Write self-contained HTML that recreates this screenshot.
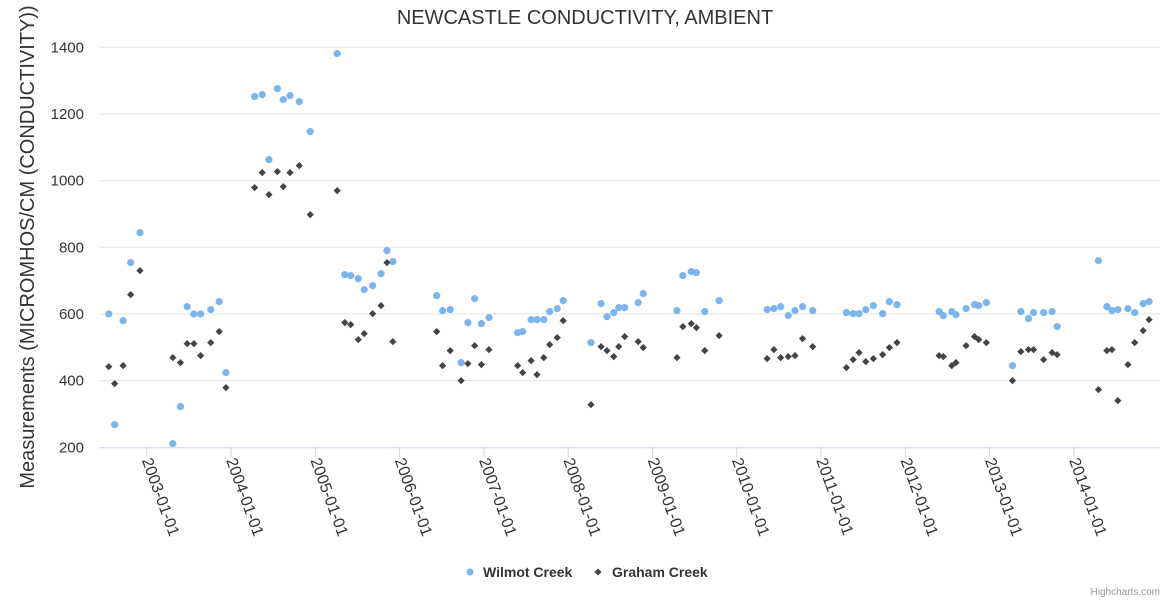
<!DOCTYPE html>
<html><head><meta charset="utf-8"><style>
html,body{margin:0;padding:0;background:#fff;}
svg{display:block;font-family:"Liberation Sans","DejaVu Sans",sans-serif;}
</style></head><body>
<svg id="chart" width="1170" height="600" viewBox="0 0 1170 600" xmlns="http://www.w3.org/2000/svg">
<rect x="0" y="0" width="1170" height="600" fill="#fff"/>
<text x="585" y="24" text-anchor="middle" font-size="20" fill="#333">NEWCASTLE CONDUCTIVITY, AMBIENT</text>
<g id="grid"></g>
<g id="yticks"></g>
<g id="xticks"></g>
<text transform="translate(34,247) rotate(-90)" text-anchor="middle" font-size="20" fill="#333">Measurements (MICROMHOS/CM (CONDUCTIVITY))</text>
<g id="s1"></g>
<g id="s2"></g>
<g>
<g>
<circle cx="470" cy="572" r="3.5" fill="#7cb5ec"/>
<text x="483" y="577" font-size="14" font-weight="bold" fill="#333">Wilmot Creek</text>
</g>
<g>
<path d="M598 568.5 L601.5 572 L598 575.5 L594.5 572 Z" fill="#434348"/>
<text x="612" y="577" font-size="14" font-weight="bold" fill="#333">Graham Creek</text>
</g>
</g>
<text x="1160" y="595" text-anchor="end" font-size="10" fill="#999">Highcharts.com</text>
</svg>
<script>
const yTicks = [200, 400, 600, 800, 1000, 1200, 1400];
const xTickYears = [2003, 2004, 2005, 2006, 2007, 2008, 2009, 2010, 2011, 2012, 2013, 2014];
const xTickLabels = ["2003-01-01","2004-01-01","2005-01-01","2006-01-01","2007-01-01","2008-01-01","2009-01-01","2010-01-01","2011-01-01","2012-01-01","2013-01-01","2014-01-01"];
const wilmotDates = [2002.55,2002.62,2002.72,2002.81,2002.92,2003.31,2003.40,2003.48,2003.56,2003.64,2003.76,2003.86,2003.94,2004.28,2004.37,2004.45,2004.55,2004.62,2004.70,2004.81,2004.94,2005.26,2005.35,2005.42,2005.51,2005.58,2005.68,2005.78,2005.85,2005.92,2006.44,2006.51,2006.60,2006.73,2006.81,2006.89,2006.97,2007.06,2007.40,2007.46,2007.56,2007.63,2007.71,2007.78,2007.87,2007.94,2008.27,2008.39,2008.46,2008.54,2008.60,2008.67,2008.83,2008.89,2009.29,2009.36,2009.46,2009.52,2009.62,2009.79,2010.36,2010.44,2010.52,2010.61,2010.69,2010.78,2010.90,2011.30,2011.38,2011.45,2011.53,2011.62,2011.73,2011.81,2011.90,2012.40,2012.45,2012.55,2012.60,2012.72,2012.82,2012.87,2012.96,2013.27,2013.37,2013.46,2013.52,2013.64,2013.74,2013.80,2014.29,2014.39,2014.45,2014.52,2014.64,2014.72,2014.82,2014.89];
const wilmotValues = [600,268,580,754,844,211,322,622,600,600,613,637,424,1252,1258,1063,1276,1243,1255,1237,1147,1381,718,715,706,673,685,721,790,757,655,610,613,454,574,646,571,589,544,547,583,583,583,607,616,640,514,631,592,604,619,619,634,661,610,715,727,724,607,640,613,616,622,595,610,622,610,604,601,601,613,625,601,637,628,607,595,607,598,616,628,625,634,445,607,586,604,604,607,562,760,622,610,613,616,604,631,637];
const grahamDates = wilmotDates;
const grahamValues = [442,391,445,658,730,469,454,511,511,475,514,547,379,979,1024,958,1027,982,1024,1045,898,970,574,568,523,541,601,625,754,517,547,445,490,400,451,505,448,493,445,424,460,418,469,508,529,580,328,502,490,472,502,532,517,499,469,562,571,559,490,535,466,493,469,472,475,526,502,439,463,484,457,466,478,499,514,475,472,445,454,505,532,523,514,400,487,493,493,463,484,478,373,490,493,340,448,514,550,583];

const NS = "http://www.w3.org/2000/svg";
const plotL = 99, plotR = 1160, plotT = 47.3, plotB = 447.3;
function yScale(v){ return plotB - (v - 200) * (plotB - plotT) / 1200; }
function xScale(yr){ return 146.7 + (yr - 2003) * 84.3; }
function mk(tag, attrs, parent){ const e = document.createElementNS(NS, tag); for (const k in attrs) e.setAttribute(k, attrs[k]); parent.appendChild(e); return e; }

const grid = document.getElementById('grid');
const yt = document.getElementById('yticks');
yTicks.forEach(function(v){
  const y = yScale(v);
  if (v !== 200) {
    const l = mk('line', {x1: plotL, x2: plotR, y1: y, y2: y, stroke: '#e6e6e6', 'stroke-width': 1}, grid);
    
    
  }
  const t = mk('text', {x: 84, y: y + 5, 'text-anchor': 'end', 'font-size': 15, fill: '#333'}, yt);
  t.textContent = String(v);
  
  
});
const axis = mk('line', {x1: plotL, x2: plotR, y1: plotB + 0.5, y2: plotB + 0.5, stroke: '#ccd6eb', 'stroke-width': 1}, grid);



const xt = document.getElementById('xticks');
xTickYears.forEach(function(yr, i){
  const x = xScale(yr);
  const tk = mk('line', {x1: x, x2: x, y1: plotB, y2: plotB + 10, stroke: '#ccd6eb', 'stroke-width': 1}, xt);
  
  
  const t = mk('text', {x: 0, y: 0, 'font-size': 16, fill: '#333', transform: 'translate(' + (x - 5) + ',' + (plotB + 13) + ') rotate(70)'}, xt);
  t.textContent = xTickLabels[i];
  
  
});

const s1 = document.getElementById('s1');
wilmotDates.forEach(function(d, i){
  const c = mk('circle', {cx: xScale(d), cy: yScale(wilmotValues[i]), r: 3.6, fill: '#7cb5ec'}, s1);
  
  
});
const s2 = document.getElementById('s2');
grahamDates.forEach(function(d, i){
  const x = xScale(d), y = yScale(grahamValues[i]);
  const p = mk('path', {d: 'M' + x + ' ' + (y - 3.6) + ' L' + (x + 3.6) + ' ' + y + ' L' + x + ' ' + (y + 3.6) + ' L' + (x - 3.6) + ' ' + y + ' Z', fill: '#434348'}, s2);
  
  
});
</script>
</body></html>
